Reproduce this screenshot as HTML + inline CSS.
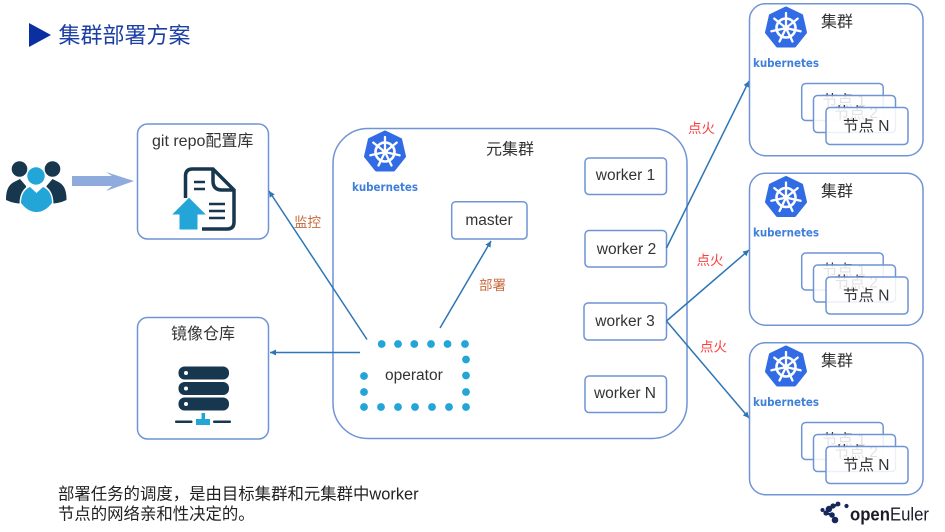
<!DOCTYPE html>
<html>
<head>
<meta charset="utf-8">
<style>
html,body{margin:0;padding:0;background:#fff;width:945px;height:532px;overflow:hidden}
svg{display:block}
text{font-family:"Liberation Sans","Noto Sans CJK SC",sans-serif;fill:#333}
.box{fill:#fff;stroke:#6f94d6;stroke-width:1.5}
.ov{fill:#fff;fill-opacity:.86;stroke:#6f94d6;stroke-width:1.5}
.ln{stroke:#2e75b6;stroke-width:1.5;fill:none}
.w{font-size:15.5px;text-anchor:middle}
.k{font-size:11.5px;font-weight:bold;fill:#3f7fdc;font-family:"DejaVu Sans",sans-serif}
.red{font-size:13.5px;fill:#ff3b3b}
.org{font-size:13.5px;fill:#c8693a}
</style>
</head>
<body>
<svg width="945" height="532" viewBox="0 0 945 532" xmlns="http://www.w3.org/2000/svg">
<defs>
<marker id="a" markerWidth="7" markerHeight="7" refX="6" refY="3" orient="auto" markerUnits="userSpaceOnUse"><path d="M0,0 L6,3 L0,6 Z" fill="#2e75b6"/></marker>
<symbol id="kube" viewBox="-22 -22 44 44" width="44" height="44" overflow="visible">
<polygon points="0,-20 15.6,-12.5 19.5,4.5 8.7,18 -8.7,18 -19.500,4.5 -15.600,-12.5" fill="#326ce5" stroke="#326ce5" stroke-width="3" stroke-linejoin="round"/>
<circle r="9.500" fill="none" stroke="#fff" stroke-width="2.600"/>
<circle r="3" fill="#fff"/>
<g stroke="#fff" stroke-width="2.300" stroke-linecap="round">
<line x1="0" y1="-3" x2="0" y2="-15"/>
<line x1="2.300" y1="-1.900" x2="11.700" y2="-9.400"/>
<line x1="2.900" y1="0.700" x2="14.600" y2="3.300"/>
<line x1="1.300" y1="2.700" x2="6.500" y2="13.500"/>
<line x1="-1.300" y1="2.700" x2="-6.500" y2="13.500"/>
<line x1="-2.900" y1="0.700" x2="-14.600" y2="3.300"/>
<line x1="-2.300" y1="-1.900" x2="-11.700" y2="-9.400"/>
</g>
</symbol>
</defs>

<!-- title -->
<polygon points="29,23 51,35 29,47" fill="#0a2fa0"/>
<text x="58.500" y="43" font-size="22" style="fill:#1b3fa5">集群部署方案</text>

<!-- people -->
<g>
<circle cx="19.500" cy="169" r="7.800" fill="#17374f"/>
<circle cx="52.500" cy="169" r="7.800" fill="#17374f"/>
<path d="M6,199 Q6,186 14,182 L20,179 L26,186 L27,204 Q14,204 6,200 Z" fill="#17374f"/>
<path d="M66.500,199 Q66.500,186 58.500,182 L52.500,179 L46.500,186 L45.500,204 Q58.500,204 66.500,200 Z" fill="#17374f"/>
<path d="M19.500,204 Q19.500,190 29.500,185 L36.500,192 L43.500,185 Q53.500,190 53.500,204 Q46,213.500 36.500,213.500 Q27,213.500 19.500,204 Z" fill="#fff"/>
<circle cx="36" cy="176" r="9.800" fill="#fff"/>
<circle cx="36" cy="176" r="8.700" fill="#23a5d8"/>
<path d="M21,203 Q21,191 30,187 L36.500,193 L43,187 Q52,191 52,203 Q45,212 36.500,212 Q28,212 21,203 Z" fill="#23a5d8"/>
</g>
<path d="M72,176 H112 L106,172 L134,181 L106,191 L112,186 H72 Z" fill="#8faadc"/>

<!-- git box -->
<rect class="box" x="137.500" y="124" width="131" height="115" rx="10"/>
<text x="152" y="146" font-size="16">git repo配置库</text>
<g fill="none" stroke="#17374f" stroke-width="3.500">
<path d="M185.500,198 V176 Q185.500,169 192.500,169 H213 L234,190 V222 Q234,229 227,229 H202"/>
<path d="M213,169 V181 Q213,190 222,190 H234"/>
<path d="M194,182 H205 M194,189 H205 M209,204 H225 M209,211 H225 M209,218 H225" stroke-width="2.600"/>
</g>
<polygon points="171,215 189,197 207,215 198,215 198,230 179,230 179,215" fill="#23a5d8" stroke="#fff" stroke-width="1"/>

<!-- mirror box -->
<rect class="box" x="137.500" y="317.500" width="131" height="121.500" rx="10"/>
<text x="171" y="339" font-size="16">镜像仓库</text>
<g fill="#17374f">
<rect x="178.500" y="366.500" width="50.500" height="13" rx="6"/>
<rect x="178.500" y="382" width="50.500" height="13" rx="6"/>
<rect x="178.500" y="397.500" width="50.500" height="13" rx="6"/>
<rect x="175" y="420.500" width="17.500" height="2.500" rx="1"/>
<rect x="213" y="420.500" width="18" height="2.500" rx="1"/>
</g>
<g fill="#fff"><circle cx="186" cy="373" r="2"/><circle cx="186" cy="388.500" r="2"/><circle cx="186" cy="404" r="2"/></g>
<path d="M201.500,413 H205 V419 H210 V425 H196 V419 H201.500 Z" fill="#23a5d8"/>

<!-- main box -->
<rect class="box" x="333" y="128.500" width="354" height="310" rx="35"/>
<use href="#kube" x="363" y="130"/>
<text class="k" x="352" y="191" textLength="66" lengthAdjust="spacingAndGlyphs">kubernetes</text>
<text x="486" y="154.500" font-size="16">元集群</text>

<rect class="box" x="451.700" y="201.700" width="75.300" height="37.300" rx="4"/>
<text class="w" x="489" y="225">master</text>

<rect class="box" x="585" y="158" width="81.500" height="36.500" rx="4"/>
<text class="w" x="625.500" y="180">worker 1</text>
<rect class="box" x="585" y="230.500" width="81.500" height="36.500" rx="4"/>
<text class="w" x="626.500" y="254">worker 2</text>
<rect class="box" x="584" y="303" width="82.500" height="37" rx="4"/>
<text class="w" x="625" y="326">worker 3</text>
<rect class="box" x="585" y="376" width="81.500" height="36.500" rx="4"/>
<text class="w" x="625" y="398">worker N</text>

<!-- operator -->
<g fill="#23a5d8">
<circle cx="381.700" cy="344" r="3.900"/><circle cx="398" cy="344" r="3.900"/><circle cx="414.300" cy="344" r="3.900"/><circle cx="431" cy="344" r="3.900"/><circle cx="447.500" cy="344" r="3.900"/><circle cx="465" cy="344" r="3.900"/>
<circle cx="466" cy="359.500" r="3.900"/><circle cx="466" cy="375.500" r="3.900"/><circle cx="466" cy="392" r="3.900"/>
<circle cx="364" cy="376" r="3.900"/><circle cx="364" cy="392" r="3.900"/>
<circle cx="364" cy="407" r="3.900"/><circle cx="381" cy="407" r="3.900"/><circle cx="398" cy="407" r="3.900"/><circle cx="415" cy="407" r="3.900"/><circle cx="432" cy="407" r="3.900"/><circle cx="449" cy="407" r="3.900"/><circle cx="466" cy="407" r="3.900"/>
</g>
<text x="385" y="380" font-size="15.500">operator</text>

<!-- connectors -->
<line class="ln" x1="367" y1="339.500" x2="269" y2="191" marker-end="url(#a)"/>
<line class="ln" x1="440" y1="328" x2="491" y2="241" marker-end="url(#a)"/>
<line class="ln" x1="360" y1="352.500" x2="270" y2="352.500" marker-end="url(#a)"/>
<line class="ln" x1="666.500" y1="248" x2="749" y2="81" marker-end="url(#a)"/>
<line class="ln" x1="666.500" y1="321" x2="749" y2="250" marker-end="url(#a)"/>
<line class="ln" x1="666.500" y1="321" x2="749" y2="418" marker-end="url(#a)"/>

<text class="org" x="294" y="227">监控</text>
<text class="org" x="479" y="290">部署</text>
<text class="red" x="688" y="133">点火</text>
<text class="red" x="696.500" y="265">点火</text>
<text class="red" x="700" y="351.500">点火</text>

<!-- cluster 1 -->
<g>
<rect class="box" x="749.500" y="3.700" width="173.500" height="152" rx="16"/>
<use href="#kube" x="764" y="6"/>
<text class="k" x="753" y="67" textLength="66" lengthAdjust="spacingAndGlyphs">kubernetes</text>
<text x="821" y="27" font-size="16">集群</text>
<rect class="box" x="801.700" y="83.500" width="81.500" height="37" rx="4"/>
<text x="822" y="106" font-size="15.500">节点 1</text>
<rect class="ov" x="813.500" y="95.500" width="82" height="37" rx="4"/>
<text x="834" y="118" font-size="15.500">节点 2</text>
<rect class="ov" x="826" y="107.500" width="82" height="37" rx="4"/>
<text x="843" y="131" font-size="15.500">节点 N</text>
</g>
<!-- cluster 2 -->
<g transform="translate(0,169.500)">
<rect class="box" x="749.500" y="3.700" width="173.500" height="152" rx="16"/>
<use href="#kube" x="764" y="6"/>
<text class="k" x="753" y="67" textLength="66" lengthAdjust="spacingAndGlyphs">kubernetes</text>
<text x="821" y="27" font-size="16">集群</text>
<rect class="box" x="801.700" y="83.500" width="81.500" height="37" rx="4"/>
<text x="822" y="106" font-size="15.500">节点 1</text>
<rect class="ov" x="813.500" y="95.500" width="82" height="37" rx="4"/>
<text x="834" y="118" font-size="15.500">节点 2</text>
<rect class="ov" x="826" y="107.500" width="82" height="37" rx="4"/>
<text x="843" y="131" font-size="15.500">节点 N</text>
</g>
<!-- cluster 3 -->
<g transform="translate(0,339)">
<rect class="box" x="749.500" y="3.700" width="173.500" height="152" rx="16"/>
<use href="#kube" x="764" y="6"/>
<text class="k" x="753" y="67" textLength="66" lengthAdjust="spacingAndGlyphs">kubernetes</text>
<text x="821" y="27" font-size="16">集群</text>
<rect class="box" x="801.700" y="83.500" width="81.500" height="37" rx="4"/>
<text x="822" y="106" font-size="15.500">节点 1</text>
<rect class="ov" x="813.500" y="95.500" width="82" height="37" rx="4"/>
<text x="834" y="118" font-size="15.500">节点 2</text>
<rect class="ov" x="826" y="107.500" width="82" height="37" rx="4"/>
<text x="843" y="131" font-size="15.500">节点 N</text>
</g>

<!-- footer -->
<text x="58" y="499.500" font-size="16.400" style="fill:#222">部署任务的调度，是由目标集群和元集群中worker</text>
<text x="58" y="519.500" font-size="16.400" style="fill:#222">节点的网络亲和性决定的。</text>

<!-- openEuler -->
<g fill="#16275c">
<circle cx="822.500" cy="510" r="2"/><circle cx="829" cy="509" r="3.200"/><circle cx="826" cy="513" r="2.600"/><circle cx="832" cy="515" r="2.800"/>
<circle cx="835" cy="520" r="3.300"/><circle cx="833" cy="506" r="2.600"/><circle cx="838" cy="504" r="2.400"/><circle cx="846.500" cy="506" r="2.100"/>
</g>
<path d="M826,510 L833,506 L840,504 M826,513 L832,515" stroke="#16275c" stroke-width="2.500" fill="none"/>
<text x="850" y="520.500" font-size="18" font-weight="bold" style="fill:#1c1c28" textLength="79" lengthAdjust="spacingAndGlyphs">open<tspan font-weight="normal">Euler</tspan></text>
</svg>
</body>
</html>
